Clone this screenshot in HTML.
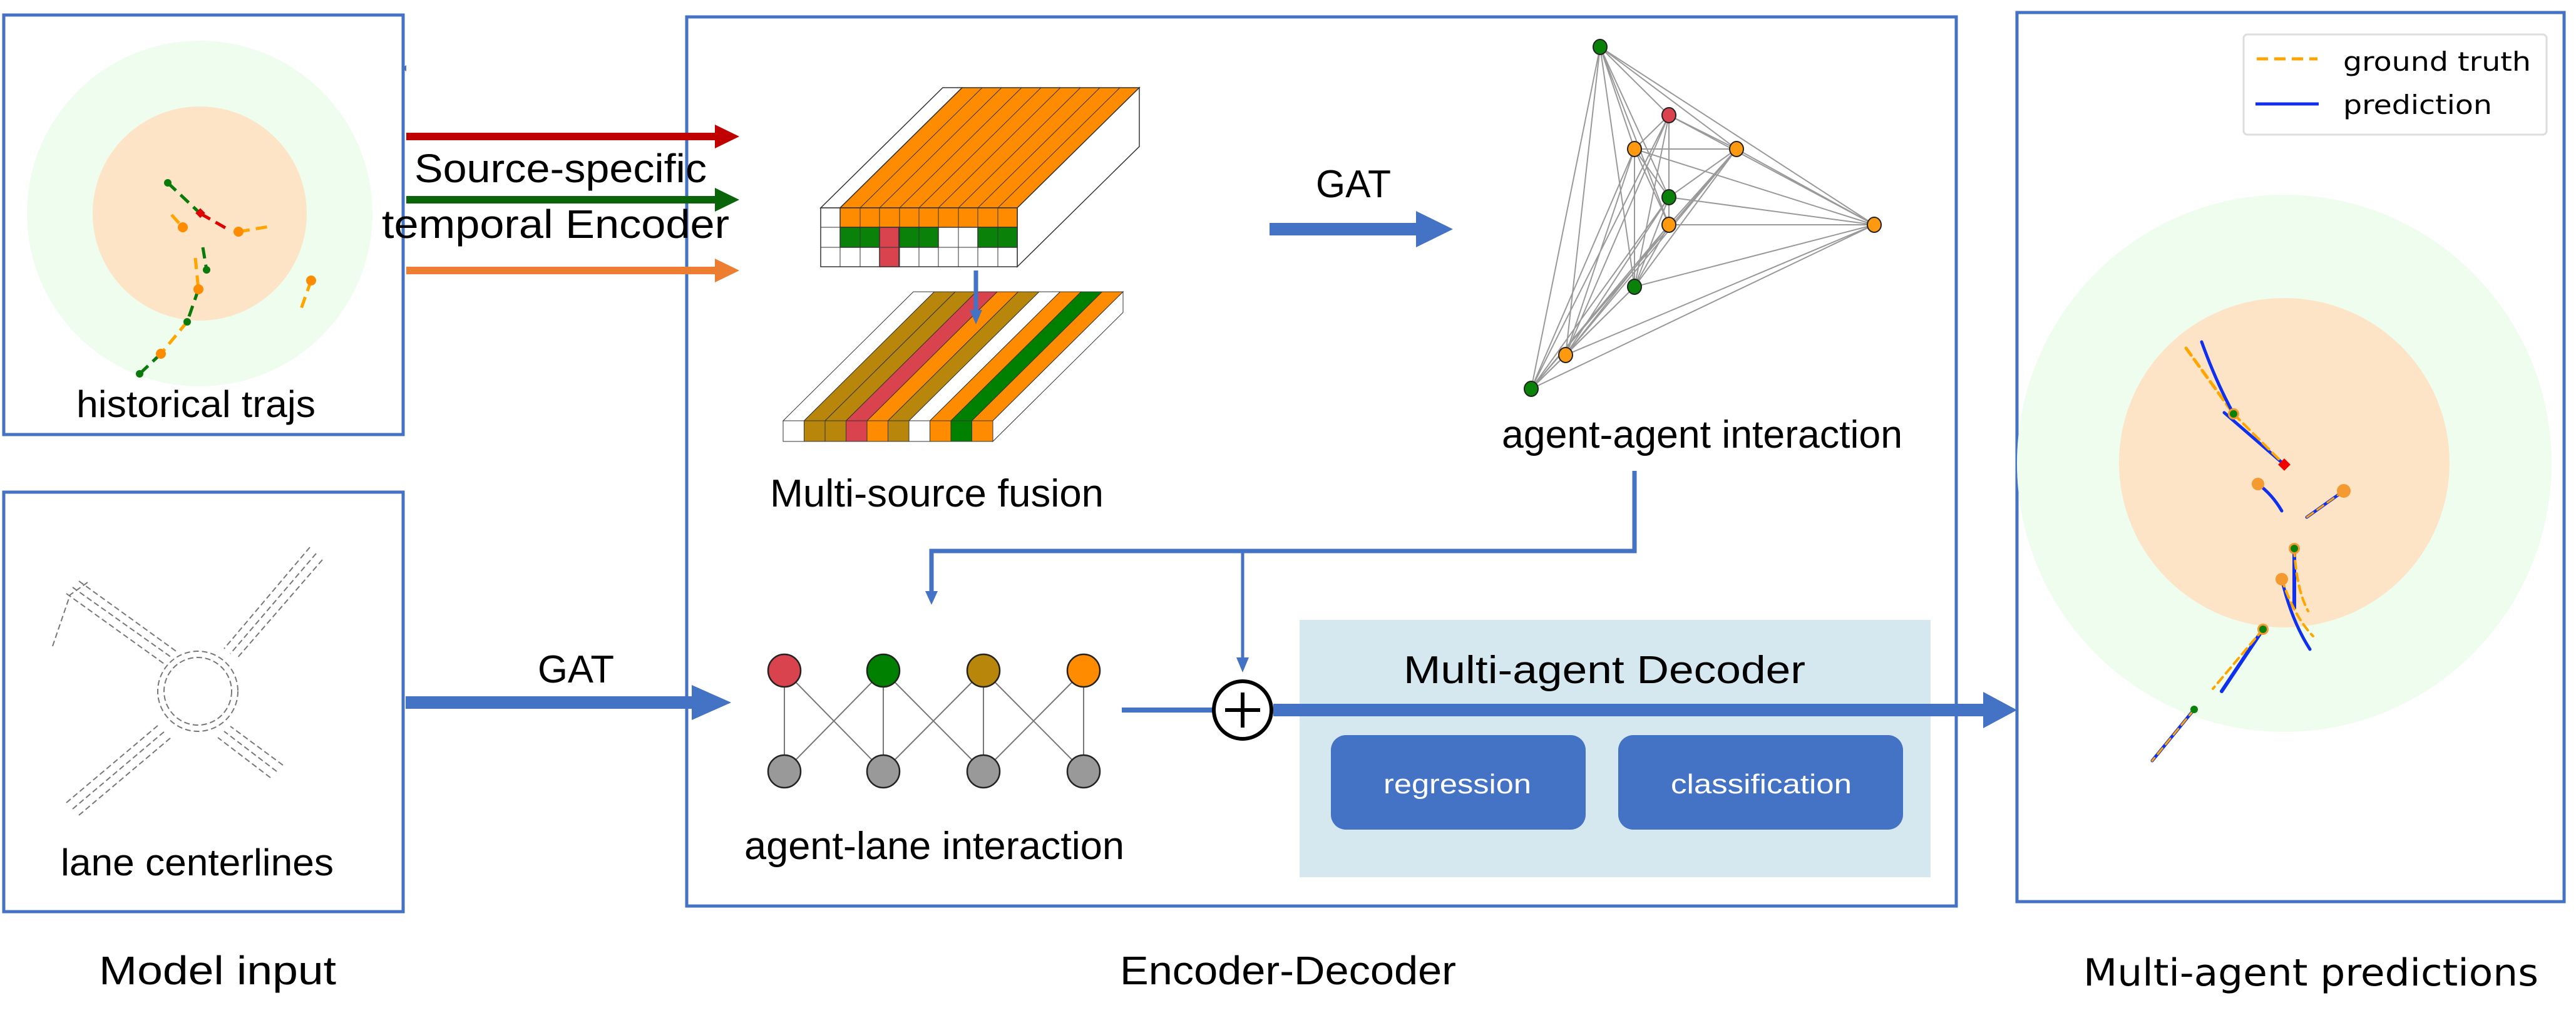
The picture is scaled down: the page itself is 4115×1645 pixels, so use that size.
<!DOCTYPE html>
<html><head><meta charset="utf-8"><style>
html,body{margin:0;padding:0;background:#fff}
svg{display:block}
text{font-family:"Liberation Sans",sans-serif;fill:#000}
</style></head><body>
<svg width="4115" height="1645" viewBox="0 0 4115 1645" xmlns="http://www.w3.org/2000/svg">
<!-- Box 1 historical -->
<rect x="6" y="24" width="638" height="670" fill="#fff" stroke="#4472C4" stroke-width="5"/>
<circle cx="319" cy="341" r="276" fill="#EEFDEE"/>
<circle cx="319" cy="341" r="171" fill="#FDE4C6"/>
<g fill="none" stroke-width="5" stroke-dasharray="18,10">
<path d="M268 292 L320 341" stroke="#0A7A0A"/>
<path d="M320 341 L362 365" stroke="#E00000"/>
<path d="M381 370 L435 361" stroke="#FFA500"/>
<path d="M274 343 L292 363" stroke="#FFA500"/>
<path d="M324 395 L330 431" stroke="#0A7A0A"/>
<path d="M312 412 L317 462" stroke="#FFA500"/>
<path d="M317 462 L299 514" stroke="#0A7A0A"/>
<path d="M299 514 L257 565" stroke="#FFA500"/>
<path d="M257 565 L223 597" stroke="#0A7A0A"/>
<path d="M497 448 L480 496" stroke="#FFA500"/>
</g>
<g fill="#FF8C00"><circle cx="381" cy="370" r="8"/><circle cx="292" cy="363" r="8"/><circle cx="317" cy="462" r="8"/><circle cx="257" cy="565" r="8"/><circle cx="497" cy="448" r="8"/></g>
<g fill="#0A7A0A"><circle cx="268" cy="292" r="6"/><circle cx="330" cy="431" r="6"/><circle cx="299" cy="514" r="6"/><circle cx="223" cy="597" r="6"/></g>
<rect x="314" y="335" width="11" height="11" fill="#E00000" transform="rotate(45 320 341)"/>
<text x="122" y="666" font-size="60" textLength="382" lengthAdjust="spacingAndGlyphs">historical trajs</text>
<path d="M649 104 L642 109 L649 114Z" fill="#4472C4"/>

<!-- Box 2 lane -->
<rect x="6" y="786" width="638" height="670" fill="#fff" stroke="#4472C4" stroke-width="5"/>
<g fill="none" stroke="#777" stroke-width="2" stroke-dasharray="9,5">
<circle cx="316" cy="1104" r="54"/><circle cx="316" cy="1104" r="64"/>
<path d="M116 938 L274 1050 M106 948 L262 1060 M126 928 L284 1042"/>
<path d="M84 1032 L112 950 L140 930"/>
<path d="M505 884 L368 1044 M515 894 L378 1052 M495 874 L358 1036"/>
<path d="M116 1292 L263 1168 M106 1282 L253 1158 M126 1302 L273 1178"/>
<path d="M442 1232 L358 1168 M452 1222 L368 1160 M432 1242 L348 1178"/>
</g>
<text x="97" y="1398" font-size="60" textLength="436" lengthAdjust="spacingAndGlyphs">lane centerlines</text>

<!-- Encoder box -->
<rect x="1097" y="27" width="2028" height="1420" fill="none" stroke="#4472C4" stroke-width="5"/>

<!-- source arrows -->
<path d="M649 212 L1142 212 L1142 199 L1181 218 L1142 237 L1142 224 L649 224Z" fill="#C00000"/>
<path d="M649 313 L1142 313 L1142 300 L1181 319 L1142 338 L1142 325 L649 325Z" fill="#0A640A"/>
<path d="M649 426 L1142 426 L1142 413 L1181 432 L1142 451 L1142 438 L649 438Z" fill="#ED7D31"/>
<text x="662" y="291" font-size="64" textLength="467" lengthAdjust="spacingAndGlyphs">Source-specific</text>
<text x="610" y="380" font-size="64" textLength="555" lengthAdjust="spacingAndGlyphs">temporal Encoder</text>

<!-- upper tensor -->
<g stroke="#333" stroke-width="1.5">
<polygon points="1311,332 1342,332 1537,140 1506,140" fill="#fff"/>
<polygon points="1342,332 1625,332 1820,140 1537,140" fill="#FF8C00"/>
<polygon points="1625,332 1820,140 1820,234 1625,426" fill="#fff"/>
<rect x="1311" y="332" width="314" height="94" fill="#fff"/>
<rect x="1342" y="332" width="283" height="31" fill="#FF8C00"/>
<rect x="1342" y="363" width="63" height="32" fill="#0A820A"/>
<rect x="1405" y="363" width="31" height="63" fill="#D9434E"/>
<rect x="1436" y="363" width="63" height="32" fill="#0A820A"/>
<rect x="1562" y="363" width="63" height="32" fill="#0A820A"/>
<path d="M1342 332L1537 140 M1374 332L1569 140 M1405 332L1600 140 M1437 332L1632 140 M1468 332L1663 140 M1499 332L1694 140 M1531 332L1726 140 M1562 332L1757 140 M1594 332L1789 140" fill="none" stroke-width="1"/>
<path d="M1311 363H1625 M1311 395H1625 M1342 332V426 M1374 332V426 M1405 332V426 M1437 332V426 M1468 332V426 M1499 332V426 M1531 332V426 M1562 332V426 M1594 332V426" fill="none" stroke-width="1"/>
</g>
<!-- lower tensor -->
<g stroke="#333" stroke-width="1">
<polygon points="1251,672 1284.5,672 1492.5,466 1459,466" fill="#fff"/>
<polygon points="1284.5,672 1318,672 1526,466 1492.5,466" fill="#B8860B"/>
<polygon points="1318,672 1351.5,672 1559.5,466 1526,466" fill="#B8860B"/>
<polygon points="1351.5,672 1385,672 1593,466 1559.5,466" fill="#D9434E"/>
<polygon points="1385,672 1418.5,672 1626.5,466 1593,466" fill="#FF8C00"/>
<polygon points="1418.5,672 1452,672 1660,466 1626.5,466" fill="#B8860B"/>
<polygon points="1452,672 1485.5,672 1693.5,466 1660,466" fill="#fff"/>
<polygon points="1485.5,672 1519,672 1727,466 1693.5,466" fill="#FF8C00"/>
<polygon points="1519,672 1552.5,672 1760.5,466 1727,466" fill="#008000"/>
<polygon points="1552.5,672 1586,672 1794,466 1760.5,466" fill="#FF8C00"/>
<polygon points="1586,672 1794,466 1794,499 1586,705" fill="#fff"/>
<rect x="1251" y="672" width="33.5" height="33" fill="#fff"/>
<rect x="1284.5" y="672" width="33.5" height="33" fill="#B8860B"/>
<rect x="1318" y="672" width="33.5" height="33" fill="#B8860B"/>
<rect x="1351.5" y="672" width="33.5" height="33" fill="#D9434E"/>
<rect x="1385" y="672" width="33.5" height="33" fill="#FF8C00"/>
<rect x="1418.5" y="672" width="33.5" height="33" fill="#B8860B"/>
<rect x="1452" y="672" width="33.5" height="33" fill="#fff"/>
<rect x="1485.5" y="672" width="33.5" height="33" fill="#FF8C00"/>
<rect x="1519" y="672" width="33.5" height="33" fill="#008000"/>
<rect x="1552.5" y="672" width="33.5" height="33" fill="#FF8C00"/>
</g>
<path d="M1559 432 V500" stroke="#4472C4" stroke-width="7"/>
<path d="M1549 495 L1569 495 L1559 518Z" fill="#4472C4"/>
<text x="1230" y="809" font-size="62" textLength="533" lengthAdjust="spacingAndGlyphs">Multi-source fusion</text>

<!-- GAT upper -->
<text x="2102" y="315" font-size="62" textLength="120" lengthAdjust="spacingAndGlyphs">GAT</text>
<path d="M2028 356 L2262 356 L2262 337 L2321 366 L2262 395 L2262 376 L2028 376Z" fill="#4472C4"/>

<!-- graph -->
<path fill="none" stroke="#999" stroke-width="2" d="M2556 75L2666 184 M2556 75L2611 238 M2556 75L2774 238 M2556 75L2666 315 M2556 75L2666 359 M2556 75L2994 359 M2556 75L2611 458 M2556 75L2501 567 M2556 75L2446 621 M2666 184L2611 238 M2666 184L2774 238 M2666 184L2666 315 M2666 184L2666 359 M2666 184L2994 359 M2666 184L2611 458 M2666 184L2501 567 M2666 184L2446 621 M2611 238L2774 238 M2611 238L2666 315 M2611 238L2666 359 M2611 238L2994 359 M2611 238L2611 458 M2611 238L2501 567 M2611 238L2446 621 M2774 238L2666 315 M2774 238L2666 359 M2774 238L2994 359 M2774 238L2611 458 M2774 238L2501 567 M2774 238L2446 621 M2666 315L2666 359 M2666 315L2994 359 M2666 315L2611 458 M2666 315L2501 567 M2666 315L2446 621 M2666 359L2994 359 M2666 359L2611 458 M2666 359L2501 567 M2666 359L2446 621 M2994 359L2611 458 M2994 359L2501 567 M2994 359L2446 621 M2611 458L2501 567 M2611 458L2446 621 M2501 567L2446 621"/>
<g stroke="#222" stroke-width="2">
<ellipse cx="2556" cy="75" rx="11" ry="12" fill="#0A820A"/>
<ellipse cx="2666" cy="184" rx="11" ry="12" fill="#D9434E"/>
<ellipse cx="2611" cy="238" rx="11" ry="12" fill="#FF9A10"/>
<ellipse cx="2774" cy="238" rx="11" ry="12" fill="#FF9A10"/>
<ellipse cx="2666" cy="315" rx="11" ry="12" fill="#0A820A"/>
<ellipse cx="2666" cy="359" rx="11" ry="12" fill="#FF9A10"/>
<ellipse cx="2994" cy="359" rx="11" ry="12" fill="#FF9A10"/>
<ellipse cx="2611" cy="458" rx="11" ry="12" fill="#0A820A"/>
<ellipse cx="2501" cy="567" rx="11" ry="12" fill="#FF9A10"/>
<ellipse cx="2446" cy="621" rx="11" ry="12" fill="#0A820A"/>
</g>
<text x="2399" y="715" font-size="62" textLength="640" lengthAdjust="spacingAndGlyphs">agent-agent interaction</text>

<!-- connectors -->
<path d="M2611 752 V880 H1488 V948" fill="none" stroke="#4472C4" stroke-width="7"/>
<path d="M1478 944 L1498 944 L1488 966Z" fill="#4472C4"/>
<path d="M1985 880 V1055" fill="none" stroke="#4472C4" stroke-width="5"/>
<path d="M1975 1050 L1995 1050 L1985 1074Z" fill="#4472C4"/>

<!-- decoder bg -->
<rect x="2076" y="990" width="1008" height="411" fill="#D5E8EF"/>
<text x="2242" y="1091" font-size="62" textLength="642" lengthAdjust="spacingAndGlyphs">Multi-agent Decoder</text>
<rect x="2126" y="1174" width="407" height="151" rx="24" fill="#4472C4"/>
<rect x="2585" y="1174" width="455" height="151" rx="24" fill="#4472C4"/>
<text x="2210" y="1267" font-size="44" style="fill:#fff" textLength="236" lengthAdjust="spacingAndGlyphs">regression</text>
<text x="2669" y="1267" font-size="44" style="fill:#fff" textLength="289" lengthAdjust="spacingAndGlyphs">classification</text>

<!-- lane GAT arrow -->
<text x="859" y="1090" font-size="62" textLength="122" lengthAdjust="spacingAndGlyphs">GAT</text>
<path d="M648 1112 L1105 1112 L1105 1094 L1168 1122 L1105 1150 L1105 1132 L648 1132Z" fill="#4472C4"/>

<!-- agent-lane -->
<path fill="none" stroke="#777" stroke-width="2" d="M1253 1071L1253 1232 M1411 1071L1411 1232 M1571 1071L1571 1232 M1731 1071L1731 1232 M1253 1071L1411 1232 M1411 1071L1253 1232 M1411 1071L1571 1232 M1571 1071L1411 1232 M1571 1071L1731 1232 M1731 1071L1571 1232"/>
<g stroke="#222" stroke-width="2.5">
<circle cx="1253" cy="1071" r="26" fill="#D9434E"/>
<circle cx="1411" cy="1071" r="26" fill="#008000"/>
<circle cx="1571" cy="1071" r="26" fill="#B8860B"/>
<circle cx="1731" cy="1071" r="26" fill="#FF8C00"/>
<circle cx="1253" cy="1232" r="26" fill="#999"/>
<circle cx="1411" cy="1232" r="26" fill="#999"/>
<circle cx="1571" cy="1232" r="26" fill="#999"/>
<circle cx="1731" cy="1232" r="26" fill="#999"/>
</g>
<text x="1189" y="1372" font-size="62" textLength="607" lengthAdjust="spacingAndGlyphs">agent-lane interaction</text>

<!-- plus and output arrow -->
<path d="M1792 1134 H1938" stroke="#4472C4" stroke-width="8"/>
<circle cx="1985" cy="1134" r="46" fill="#fff" stroke="#000" stroke-width="6"/>
<path d="M1985 1106 V1162 M1957 1134 H2013" stroke="#000" stroke-width="6"/>
<path d="M2034 1124 L3168 1124 L3168 1105 L3222 1134 L3168 1163 L3168 1144 L2034 1144Z" fill="#4472C4"/>

<!-- right box -->
<rect x="3222" y="20" width="874" height="1420" fill="#fff" stroke="#4472C4" stroke-width="5"/>
<ellipse cx="3649" cy="740" rx="427" ry="429" fill="#EEFDEE"/>
<ellipse cx="3649" cy="739" rx="264" ry="263" fill="#FDE4C6"/>
<g fill="none" stroke-linecap="round">
<path d="M3492 556 L3568 661" stroke="#FFA500" stroke-width="5" stroke-dasharray="14,8"/>
<path d="M3517 546 Q3540 610 3568 661" stroke="#1030F0" stroke-width="5"/>
<path d="M3553 659 L3649 742" stroke="#1030F0" stroke-width="5"/>
<path d="M3568 661 L3649 742" stroke="#FFA500" stroke-width="4" stroke-dasharray="14,8"/>
<path d="M3607 773 Q3630 790 3645 816" stroke="#1030F0" stroke-width="5"/>
<path d="M3744 784 L3685 826" stroke="#1030F0" stroke-width="5"/>
<path d="M3744 784 L3685 826" stroke="#FFA500" stroke-width="3" stroke-dasharray="12,8"/>
<path d="M3665 876 L3665 971" stroke="#1030F0" stroke-width="6"/>
<path d="M3665 876 Q3668 940 3687 976" stroke="#FFA500" stroke-width="4" stroke-dasharray="12,8"/>
<path d="M3645 925 Q3660 990 3690 1037" stroke="#1030F0" stroke-width="5"/>
<path d="M3645 925 Q3665 985 3695 1016" stroke="#FFA500" stroke-width="4" stroke-dasharray="12,8"/>
<path d="M3615 1005 L3549 1104" stroke="#1030F0" stroke-width="6"/>
<path d="M3615 1005 L3535 1100" stroke="#FFA500" stroke-width="4" stroke-dasharray="12,8"/>
<path d="M3505 1133 L3438 1215" stroke="#1030F0" stroke-width="5"/>
<path d="M3505 1133 L3438 1215" stroke="#FFA500" stroke-width="3" stroke-dasharray="12,8"/>
</g>
<g fill="#F59A30"><circle cx="3607" cy="773" r="10"/><circle cx="3744" cy="784" r="11"/><circle cx="3645" cy="925" r="10"/><circle cx="3568" cy="661" r="9"/><circle cx="3665" cy="876" r="9"/><circle cx="3615" cy="1005" r="9"/></g>
<g fill="#0A820A"><circle cx="3568" cy="661" r="6"/><circle cx="3665" cy="876" r="6"/><circle cx="3615" cy="1005" r="6"/><circle cx="3505" cy="1133" r="6"/></g>
<rect x="3642" y="735" width="14" height="14" fill="#F00000" transform="rotate(45 3649 742)"/>
<rect x="3584" y="55" width="484" height="160" rx="6" fill="#fff" stroke="#ddd" stroke-width="3"/>
<path d="M3605 94 H3702" stroke="#FFA500" stroke-width="5" stroke-dasharray="18,10"/>
<path d="M3603 166 H3704" stroke="#1030F0" stroke-width="5"/>
<text x="3743" y="113" font-size="42" style="font-family:'DejaVu Sans',sans-serif" textLength="300" lengthAdjust="spacingAndGlyphs">ground truth</text>
<text x="3743" y="182" font-size="42" style="font-family:'DejaVu Sans',sans-serif" textLength="238" lengthAdjust="spacingAndGlyphs">prediction</text>

<!-- bottom labels -->
<text x="158" y="1572" font-size="64" textLength="379" lengthAdjust="spacingAndGlyphs">Model input</text>
<text x="1789" y="1572" font-size="64" textLength="537" lengthAdjust="spacingAndGlyphs">Encoder-Decoder</text>
<text x="3328" y="1574" font-size="60" style="font-family:'DejaVu Sans',sans-serif" textLength="727" lengthAdjust="spacingAndGlyphs">Multi-agent predictions</text>
</svg>
</body></html>
